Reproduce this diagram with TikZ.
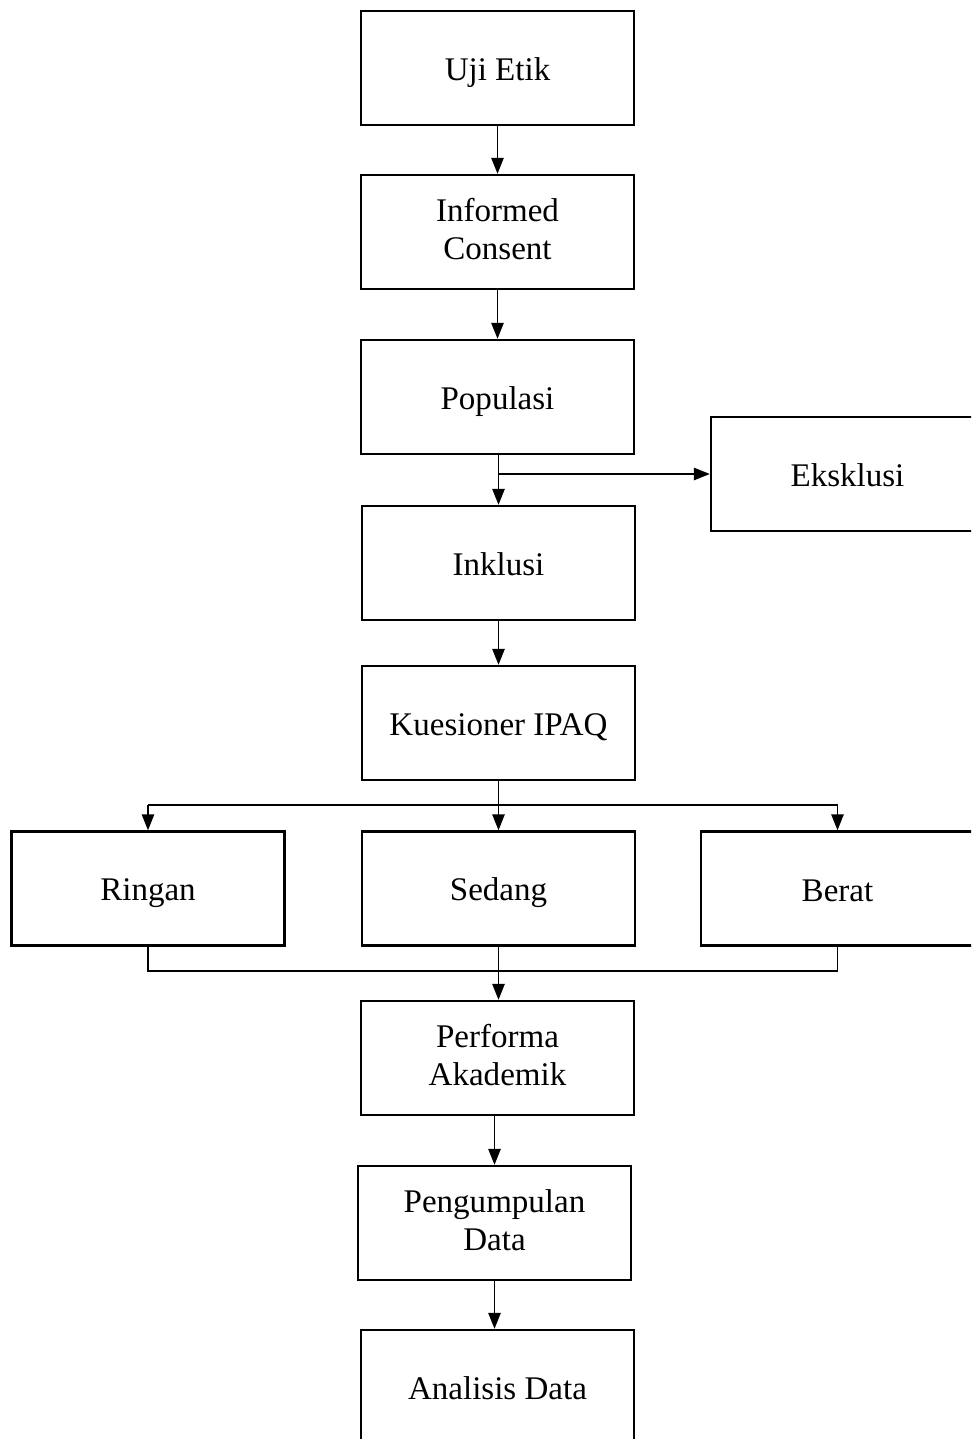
\documentclass[tikz,border=0pt]{standalone}
\usepackage{fontspec}
\setmainfont{Liberation Serif}
\usetikzlibrary{arrows.meta}
\newcommand{\tegak}{\rule[-3.5pt]{0pt}{21.5pt}}
\tikzset{
  kotak/.style={draw, line width=1.4pt, minimum width=5.46cm, minimum height=2.28cm,
    align=center, font=\fontsize{18.8}{21.5}\selectfont, inner sep=0pt,
    execute at begin node=\tegak, execute at end node=\tegak},
  panah/.style={line width=0.85pt, -{Triangle[length=9pt,width=7pt]}},
  garis/.style={line width=0.85pt}
}
\begin{document}
\begin{tikzpicture}[x=0.02cm, y=-0.02cm]
    \useasboundingbox (0,0) rectangle (971,1439);
    \clip (0,0) rectangle (971,1439);

    \node[kotak] (uji) at (497.5,68) {Uji Etik};
    \node[kotak] (consent) at (497.5,232) {Informed\\Consent};
    \node[kotak] (pop) at (497.5,397) {Populasi};
    \node[kotak] (eks) at (847.5,474) {Eksklusi};
    \node[kotak] (ink) at (498.5,563) {Inklusi};
    \node[kotak] (ipaq) at (498.5,723) {Kuesioner IPAQ};
    \node[kotak] (ringan) at (148,888.5) {Ringan};
    \node[kotak] (sedang) at (498.5,888.5) {Sedang};
    \node[kotak] (berat) at (837.5,888.5) {Berat};
    \node[kotak] (perf) at (497.5,1058) {Performa\\Akademik};
    \node[kotak] (kumpul) at (494.5,1223) {Pengumpulan\\Data};
    \node[kotak] (analisis) at (497.5,1387) {Analisis Data};

    \draw[panah] (uji) -- (consent);
    \draw[panah] (consent) -- (pop);
    \draw[panah] (pop.south -| ink.north) -- (ink.north);
    \draw[panah] (ink) -- (ipaq);

    \coordinate (cabang) at (ink.north |- eks.west);
    \draw[panah] (cabang) -- (eks.west);

    % cabang ke tiga kategori
    \coordinate (atas) at (ipaq.south |- 0,805);
    \draw[garis] (ipaq.south) -- (atas);
    \draw[garis] (ringan.north |- atas) -- (berat.north |- atas);
    \draw[panah] (ringan.north |- atas) -- (ringan.north);
    \draw[panah] (atas) -- (sedang.north);
    \draw[panah] (berat.north |- atas) -- (berat.north);

    % gabung ke performa
    \coordinate (bawah) at (sedang.south |- 0,971);
    \draw[garis] (ringan.south) -- (ringan.south |- bawah) -- (berat.south |- bawah) -- (berat.south);
    \draw[panah] (sedang.south) -- (sedang.south |- perf.north);

    \draw[panah] (perf.south -| kumpul.north) -- (kumpul.north);
    \draw[panah] (kumpul.south) -- (kumpul.south |- analisis.north);
\end{tikzpicture}
\end{document}
